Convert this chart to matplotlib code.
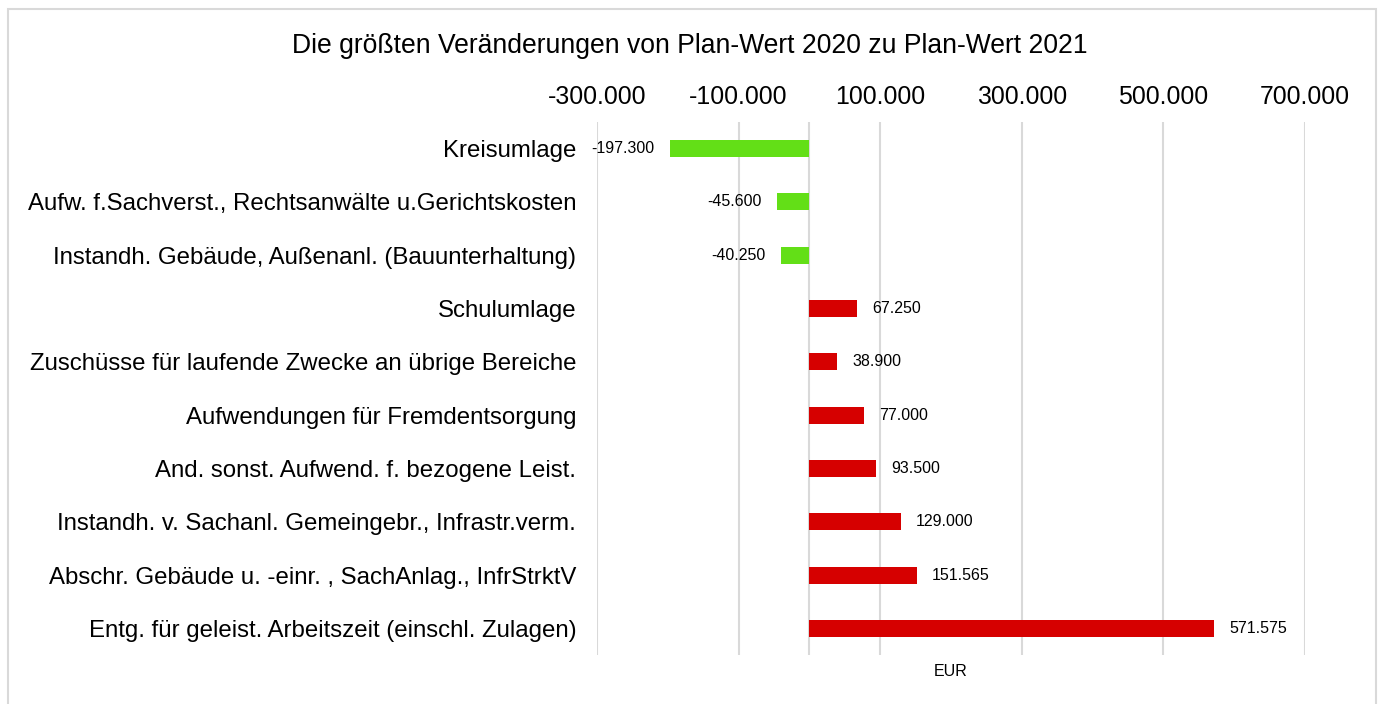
import matplotlib
matplotlib.use("Agg")
import matplotlib.pyplot as plt
from matplotlib.patches import Rectangle
from matplotlib.ticker import FixedLocator, FuncFormatter

plt.rcParams['font.family'] = ['Liberation Sans', 'DejaVu Sans']

categories = [
    "Kreisumlage",
    "Aufw. f.Sachverst., Rechtsanwälte u.Gerichtskosten",
    "Instandh. Gebäude, Außenanl. (Bauunterhaltung)",
    "Schulumlage",
    "Zuschüsse für laufende Zwecke an übrige Bereiche",
    "Aufwendungen für Fremdentsorgung",
    "And. sonst. Aufwend. f. bezogene Leist.",
    "Instandh. v. Sachanl. Gemeingebr., Infrastr.verm.",
    "Abschr. Gebäude u. -einr. , SachAnlag., InfrStrktV",
    "Entg. für geleist. Arbeitszeit (einschl. Zulagen)",
]
values = [-197300, -45600, -40250, 67250, 38900, 77000, 93500, 129000, 151565, 571575]
tick_values = [-300000, -100000, 100000, 300000, 500000, 700000]

GREEN = "#63DF17"
RED = "#D60000"
GRID = "#D9D9D9"


def de_fmt(v, pos=None):
    s = f"{abs(int(round(v))):,}".replace(",", ".")
    return ("-" if v < 0 else "") + s


fig = plt.figure(figsize=(13.79, 7.04), dpi=100)
fig.patches.append(Rectangle((8 / 1379, -0.05), (1376 - 8) / 1379, 1.05 - 9 / 704,
                             transform=fig.transFigure, fill=False,
                             edgecolor=GRID, linewidth=1.5))

ax = fig.add_axes([597 / 1379, 1 - 655 / 704, (1305 - 597) / 1379, (655 - 122) / 704])

ypos = list(range(len(categories)))
colors = [GREEN if v < 0 else RED for v in values]
ax.barh(ypos, values, height=0.32, color=colors, zorder=3)

ax.set_xlim(-300000, 700000)
ax.set_ylim(len(categories) - 0.5, -0.5)

ax.xaxis.set_major_locator(FixedLocator(tick_values))
ax.xaxis.set_major_formatter(FuncFormatter(de_fmt))
ax.xaxis.tick_top()
ax.tick_params(axis='x', length=0, labelsize=17.9, pad=9, colors='black')
ax.grid(axis='x', color=GRID, linewidth=1.5, zorder=0)
ax.axvline(0, color=GRID, linewidth=1.5, zorder=1)

ax.set_yticks(ypos)
ax.set_yticklabels(categories)
ax.tick_params(axis='y', length=0, labelsize=17.3, pad=15)

for s in ax.spines.values():
    s.set_visible(False)

for y, v in zip(ypos, values):
    if v < 0:
        ax.annotate(de_fmt(v), (v, y), xytext=(-11, 0), textcoords='offset points',
                    ha='right', va='center', fontsize=11.5)
    else:
        ax.annotate(de_fmt(v), (v, y), xytext=(11, 0), textcoords='offset points',
                    ha='left', va='center', fontsize=11.5)

ax.set_xlabel("EUR", fontsize=11.5, labelpad=0)
ax.xaxis.set_label_position('bottom')
ax.xaxis.set_label_coords(0.5, -0.017)

fig.text(0.5, 1 - 46 / 704, "Die größten Veränderungen von Plan-Wert 2020 zu Plan-Wert 2021",
         ha='center', va='center', fontsize=19.1)

fig.savefig("out.png", dpi=100)
